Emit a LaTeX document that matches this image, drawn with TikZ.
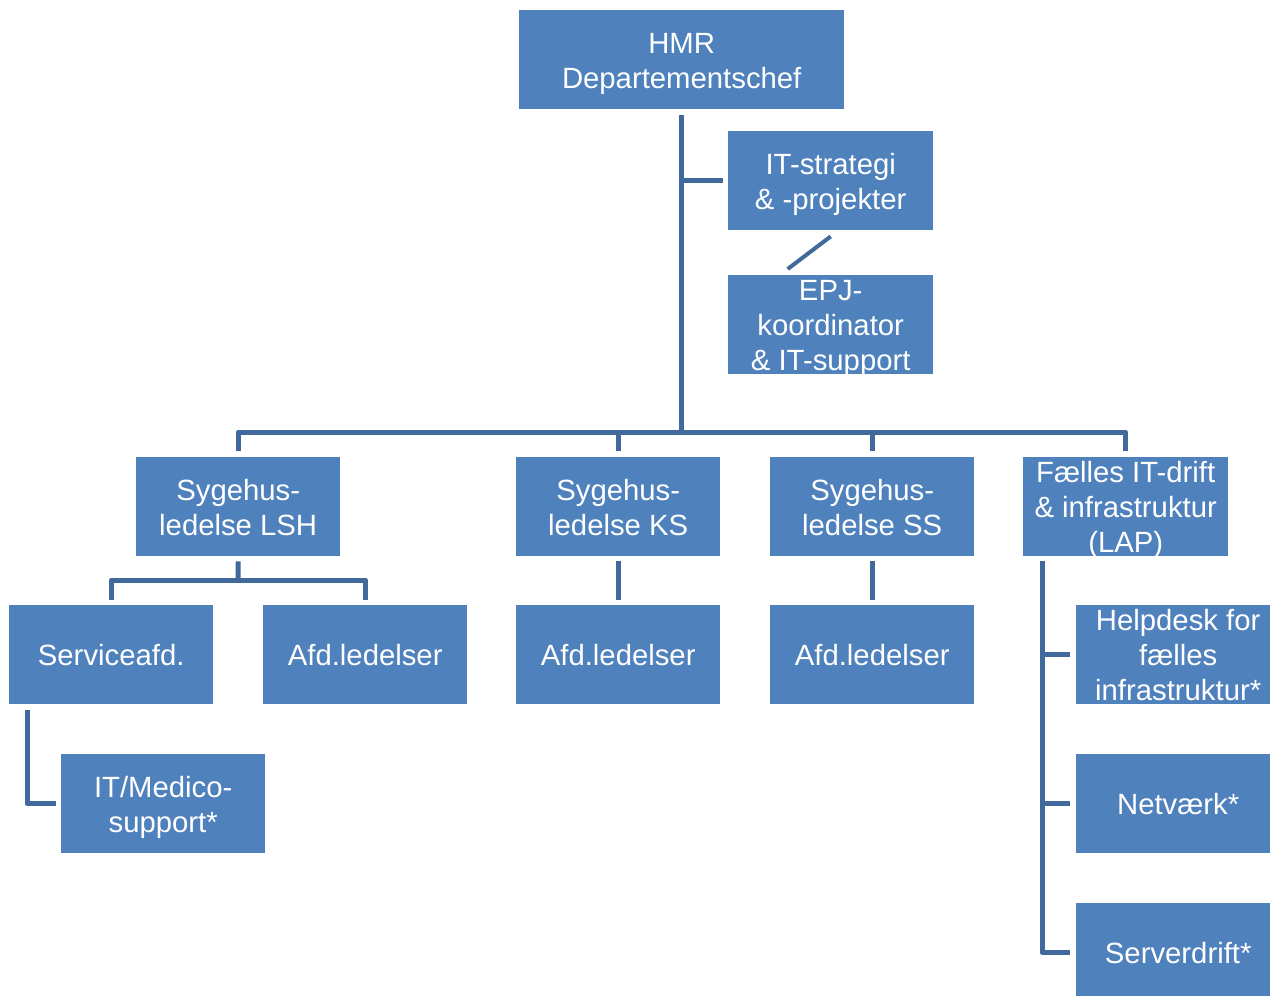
\documentclass[tikz,border=0pt]{standalone}
\usepackage{fontspec}
\setmainfont{Liberation Sans}
\definecolor{boxblue}{RGB}{79,129,189}
\definecolor{linkblue}{RGB}{65,105,155}
\newcommand\orgline[1]{\rule[-3pt]{0pt}{28pt}\smash{#1}}
\begin{document}
\begin{tikzpicture}[x=1pt,y=-1pt,
  orgbox/.style={draw=none, fill=boxblue, text=white, align=center, inner sep=0pt,
    minimum width=204pt, minimum height=99pt, anchor=north west,
    font=\fontsize{29.3}{35}\selectfont},
  link/.style={draw=linkblue, line width=5pt, line join=round}]
\useasboundingbox (0,0) rectangle (1270,996);
% boxes
\node[orgbox, minimum width=325pt] (hmr) at (519,10) {\orgline{HMR}\\\orgline{Departementschef}};
\node[orgbox, minimum width=205pt] (strat) at (728,131) {\orgline{IT-strategi}\\\orgline{\& -projekter}};
\node[orgbox, minimum width=205pt] (epj) at (728,275) {\orgline{EPJ-}\\\orgline{koordinator}\\\orgline{\& IT-support}};
\node[orgbox] (lsh) at (136,457) {\orgline{Sygehus-}\\\orgline{ledelse LSH}};
\node[orgbox] (ks) at (516,457) {\orgline{Sygehus-}\\\orgline{ledelse KS}};
\node[orgbox] (ss) at (770,457) {\orgline{Sygehus-}\\\orgline{ledelse SS}};
\node[orgbox, minimum width=205pt] (lap) at (1023,457) {\orgline{Fælles IT-drift}\\\orgline{\& infrastruktur}\\\orgline{(LAP)}};
\node[orgbox] (svc) at (9,605) {\orgline{Serviceafd.}};
\node[orgbox] (afd1) at (263,605) {\orgline{Afd.ledelser}};
\node[orgbox] (afd2) at (516,605) {\orgline{Afd.ledelser}};
\node[orgbox] (afd3) at (770,605) {\orgline{Afd.ledelser}};
\node[orgbox] (med) at (61,754) {\orgline{IT/Medico-}\\\orgline{support*}};
\node[orgbox] (help) at (1076,605) {\orgline{Helpdesk for}\\\orgline{fælles}\\\orgline{infrastruktur*}};
\node[orgbox] (net) at (1076,754) {\orgline{Netværk*}};
\node[orgbox] (srv) at (1076,903) {\orgline{Serverdrift*}};
% connectors
\coordinate (bus) at (682,432);
\coordinate (lshbus) at (238,580);
\draw[link] ([yshift=-6pt]hmr.south) -- (hmr.south |- bus);
\draw[link] (hmr.south |- strat.west) -- ([xshift=-5pt]strat.west);
\draw[link, line width=4pt] ([yshift=-6pt]strat.south) -- ([xshift=-43pt,yshift=6pt]epj.north);
\draw[link] ([yshift=6pt]lsh.north) -- (lsh.north |- bus) -- (lap.north |- bus) -- ([yshift=6pt]lap.north);
\draw[link] (ks.north |- bus) -- ([yshift=6pt]ks.north);
\draw[link] (ss.north |- bus) -- ([yshift=6pt]ss.north);
\draw[link] ([yshift=-5pt]lsh.south) -- (lshbus);
\draw[link] ([yshift=5pt]svc.north) -- (svc.north |- lshbus) -- (afd1.north |- lshbus) -- ([yshift=5pt]afd1.north);
\draw[link] ([yshift=-5pt]ks.south) -- ([yshift=5pt]afd2.north);
\draw[link] ([yshift=-5pt]ss.south) -- ([yshift=5pt]afd3.north);
\draw[link] ([xshift=18pt,yshift=-6pt]svc.south west) -- ([xshift=18pt]svc.south west |- med.west) -- ([xshift=-5pt]med.west);
\draw[link] ([xshift=19pt,yshift=-5pt]lap.south west) -- ([xshift=19pt]lap.south west |- srv.west) -- ([xshift=-6pt]srv.west);
\draw[link] ([xshift=19pt]lap.south west |- help.west) -- ([xshift=-6pt]help.west);
\draw[link] ([xshift=19pt]lap.south west |- net.west) -- ([xshift=-6pt]net.west);
\end{tikzpicture}
\end{document}
